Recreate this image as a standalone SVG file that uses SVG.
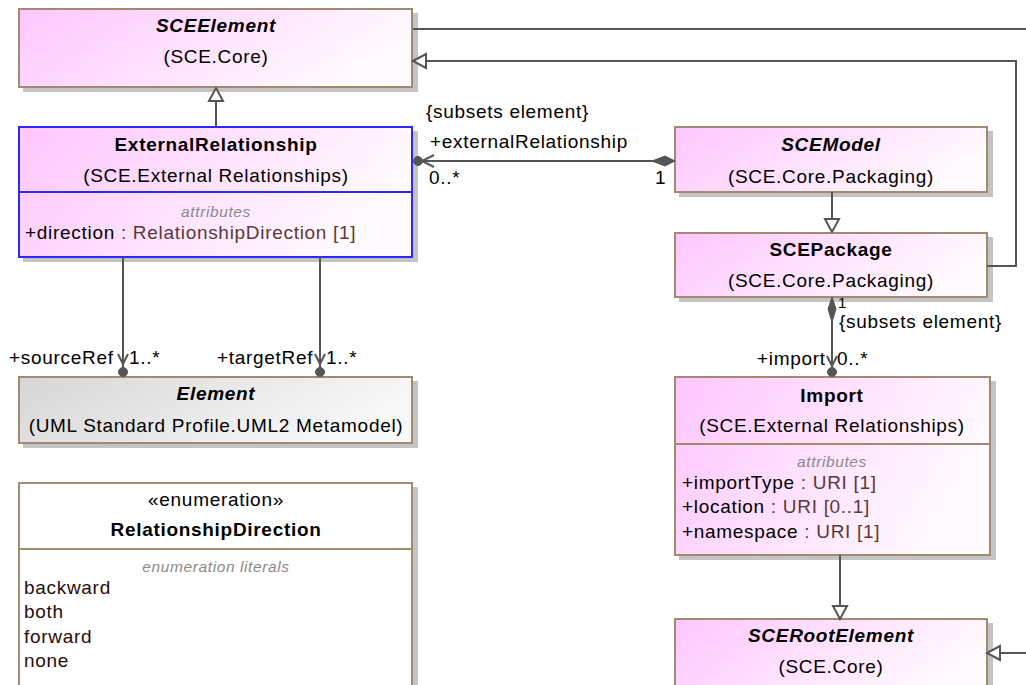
<svg xmlns="http://www.w3.org/2000/svg" width="1026" height="685" viewBox="0 0 1026 685">
<style>
text{font-family:"Liberation Sans",Arial,sans-serif;font-size:19px;letter-spacing:0.7px;fill:#000}
.c{text-anchor:middle}
.b{font-weight:bold}
.bi{font-weight:bold;font-style:italic}
.sec{font-size:15.5px;font-style:italic;fill:#8a8a8a;letter-spacing:0.6px;text-anchor:middle}
.ty{fill:#5a3838}
.lit{fill:#2a0c0c}
.box{fill:url(#pink);stroke:#a08a72;stroke-width:2}
.sh{fill:#c4c4c4}
.ln{fill:none;stroke:#555;stroke-width:2}
.tri{fill:#fff;stroke:#555;stroke-width:2}
.fill{fill:#555;stroke:#555;stroke-width:1}
</style>
<defs>
<linearGradient id="pink" x1="0" y1="0" x2="1" y2="0.3">
<stop offset="0" stop-color="#ffc6ff"/>
<stop offset="1" stop-color="#fffafe"/>
</linearGradient>
<linearGradient id="gray" x1="0" y1="0" x2="1" y2="0.3">
<stop offset="0" stop-color="#d6d6d6"/>
<stop offset="1" stop-color="#f8f8f8"/>
</linearGradient>
</defs>

<g id="SCEElement">
<rect class="sh" x="23" y="13" width="395" height="79"/>
<rect class="box" x="19" y="9" width="393" height="78"/>
<text class="c bi" x="216" y="32">SCEElement</text>
<text class="c" x="216" y="63">(SCE.Core)</text>
</g>

<g id="ExternalRelationship">
<rect class="sh" x="23" y="131" width="395" height="131"/>
<rect x="19" y="127" width="393" height="130" fill="url(#pink)" stroke="#2828ff" stroke-width="2"/>
<line x1="19" y1="192" x2="412" y2="192" stroke="#2828ff" stroke-width="2"/>
<text class="c b" x="216" y="151">ExternalRelationship</text>
<text class="c" x="216" y="182">(SCE.External Relationships)</text>
<text class="sec" x="216" y="217">attributes</text>
<text x="25" y="239">+direction<tspan class="ty"> : RelationshipDirection [1]</tspan></text>
</g>

<g id="Element">
<rect class="sh" x="23" y="381" width="395" height="67"/>
<rect x="19" y="377" width="393" height="66" fill="url(#gray)" stroke="#a08a72" stroke-width="2"/>
<text class="c bi" x="216" y="400">Element</text>
<text class="c" x="216" y="432">(UML Standard Profile.UML2 Metamodel)</text>
</g>

<g id="RelationshipDirection">
<rect class="sh" x="23" y="487" width="395" height="205"/>
<rect x="19" y="483" width="393" height="210" fill="#fff" stroke="#a08a72" stroke-width="2"/>
<line x1="19" y1="549" x2="412" y2="549" stroke="#a08a72" stroke-width="2"/>
<text class="c" x="216" y="506">«enumeration»</text>
<text class="c b" x="216" y="536">RelationshipDirection</text>
<text class="sec" x="216" y="572">enumeration literals</text>
<text class="lit" x="24" y="594">backward</text>
<text class="lit" x="24" y="618">both</text>
<text class="lit" x="24" y="643">forward</text>
<text class="lit" x="24" y="667">none</text>
</g>

<g id="SCEModel">
<rect class="sh" x="679" y="131" width="314" height="66"/>
<rect class="box" x="675" y="127" width="312" height="65"/>
<text class="c bi" x="831" y="151">SCEModel</text>
<text class="c" x="831" y="183">(SCE.Core.Packaging)</text>
</g>

<g id="SCEPackage">
<rect class="sh" x="679" y="237" width="314" height="65"/>
<rect class="box" x="675" y="233" width="312" height="64"/>
<text class="c b" x="831" y="256">SCEPackage</text>
<text class="c" x="831" y="287">(SCE.Core.Packaging)</text>
</g>

<g id="Import">
<rect class="sh" x="679" y="381" width="317" height="179"/>
<rect class="box" x="675" y="377" width="315" height="178"/>
<line x1="675" y1="444" x2="990" y2="444" stroke="#a08a72" stroke-width="2"/>
<text class="c b" x="832" y="402">Import</text>
<text class="c" x="832" y="432">(SCE.External Relationships)</text>
<text class="sec" x="832" y="467">attributes</text>
<text x="682" y="489">+importType<tspan class="ty"> : URI [1]</tspan></text>
<text x="682" y="513">+location<tspan class="ty"> : URI [0..1]</tspan></text>
<text x="682" y="538">+namespace<tspan class="ty"> : URI [1]</tspan></text>
</g>

<g id="SCERootElement">
<rect class="sh" x="679" y="623" width="314" height="70"/>
<rect class="box" x="675" y="619" width="312" height="75"/>
<text class="c bi" x="831" y="642">SCERootElement</text>
<text class="c" x="831" y="673">(SCE.Core)</text>
</g>

<g id="connectors">
<line class="ln" x1="216" y1="127" x2="216" y2="101"/>
<polygon class="tri" points="216,88 223,101 209,101"/>
<line class="ln" x1="413" y1="29" x2="1026" y2="29"/>
<polyline class="ln" points="987,266 1016,266 1016,61 426,61"/>
<polygon class="tri" points="413,61 426,54 426,68"/>
<line class="ln" x1="832" y1="192" x2="832" y2="219"/>
<polygon class="tri" points="832,232 825,219 839,219"/>
<line class="ln" x1="418" y1="161" x2="655" y2="161"/>
<polygon class="fill" points="675,161 665,156 652,161 665,166"/>
<polyline class="ln" points="434,155 422,161 434,167"/>
<circle class="fill" cx="418" cy="161" r="4.5"/>
<text x="426" y="118">{subsets element}</text>
<text x="430" y="148">+externalRelationship</text>
<text x="429" y="184">0..*</text>
<text x="655" y="184">1</text>
<line class="ln" x1="123" y1="257" x2="123" y2="372"/>
<polyline class="ln" points="118,354 123,364 128,354"/>
<circle class="fill" cx="123" cy="372" r="4.5"/>
<text x="9" y="364">+sourceRef</text>
<text x="129" y="364">1..*</text>
<line class="ln" x1="320" y1="257" x2="320" y2="372"/>
<polyline class="ln" points="315,354 320,364 325,354"/>
<circle class="fill" cx="320" cy="372" r="4.5"/>
<text x="217" y="364">+targetRef</text>
<text x="326" y="364">1..*</text>
<line class="ln" x1="832" y1="320" x2="832" y2="372"/>
<polygon class="fill" points="832,297 836,309 832,322 828,309"/>
<polyline class="ln" points="827,356 832,366 837,356"/>
<circle class="fill" cx="832" cy="372" r="4.5"/>
<text x="838" y="308" style="font-size:15px;letter-spacing:0">1</text>
<text x="839" y="328">{subsets element}</text>
<text x="757" y="365">+import</text>
<text x="837" y="365">0..*</text>
<line class="ln" x1="840" y1="555" x2="840" y2="606"/>
<polygon class="tri" points="840,619 833,606 847,606"/>
<line class="ln" x1="1000" y1="653" x2="1026" y2="653"/>
<polygon class="tri" points="987,653 1000,646 1000,660"/>
</g>
</svg>
